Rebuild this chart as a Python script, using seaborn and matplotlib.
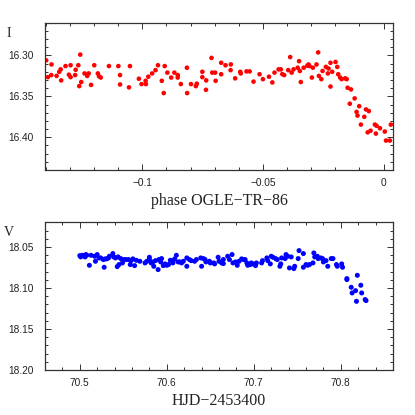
import matplotlib
matplotlib.use("Agg")
import matplotlib.pyplot as plt
import matplotlib.ticker as mticker
import seaborn as sns
import pandas as pd

# ---- data: top panel (phase vs I) ----
phase = [
    -0.1398, -0.1391, -0.1377, -0.1376, -0.1355, -0.1344, -0.1338, -0.1336, -0.1318, -0.1304,
    -0.1297, -0.1297, -0.1276, -0.1278, -0.1265, -0.1257, -0.1261, -0.1253, -0.1239, -0.1222,
    -0.1228, -0.1212, -0.1199, -0.1184, -0.1179, -0.1172, -0.1138, -0.1099, -0.1092, -0.1092,
    -0.1051, -0.1055, -0.1014, -0.1003, -0.0986, -0.0985, -0.0975, -0.0959, -0.0945, -0.0935,
    -0.0919, -0.0911, -0.0907, -0.0896, -0.0880, -0.0867, -0.0853, -0.0853, -0.0840, -0.0815,
    -0.0814, -0.0798, -0.0778, -0.0774, -0.0751, -0.0751, -0.0736, -0.0735, -0.0713, -0.0710,
    -0.0698, -0.0696, -0.0673, -0.0673, -0.0655, -0.0633, -0.0634, -0.0615, -0.0594, -0.0592,
    -0.0568, -0.0555, -0.0539, -0.0514, -0.0500, -0.0475, -0.0461, -0.0452, -0.0435, -0.0426,
    -0.0420, -0.0412, -0.0395, -0.0387, -0.0381, -0.0373, -0.0356, -0.0350, -0.0347, -0.0343,
    -0.0331, -0.0316, -0.0311, -0.0307, -0.0297, -0.0293, -0.0278, -0.0271, -0.0268, -0.0258,
    -0.0253, -0.0239, -0.0231, -0.0228, -0.0220, -0.0220, -0.0213, -0.0199, -0.0192, -0.0188,
    -0.0180, -0.0174, -0.0159, -0.0153, -0.0149, -0.0135, -0.0140, -0.0120, -0.0112, -0.0108,
    -0.0101, -0.0094, -0.0080, -0.0073, -0.0061, -0.0066, -0.0054, -0.0036, -0.0029, -0.0032,
    -0.0015, 0.0005, 0.0010, 0.0026, 0.0030,
]
mag_I = [
    16.306, 16.3265, 16.324, 16.311, 16.325, 16.320, 16.317, 16.3305, 16.313, 16.3235,
    16.312, 16.3265, 16.3175, 16.324, 16.312, 16.299, 16.3375, 16.3325, 16.322, 16.322,
    16.325, 16.336, 16.312, 16.322, 16.3255, 16.327, 16.313, 16.313, 16.324, 16.3355,
    16.313, 16.339, 16.3285, 16.335, 16.331, 16.335, 16.326, 16.322, 16.318, 16.312,
    16.331, 16.346, 16.313, 16.321, 16.327, 16.321, 16.324, 16.327, 16.335, 16.315,
    16.346, 16.335, 16.3375, 16.3345, 16.320, 16.3265, 16.342, 16.3305, 16.303, 16.321,
    16.321, 16.331, 16.309, 16.323, 16.312, 16.311, 16.318, 16.328, 16.320, 16.322,
    16.3195, 16.3195, 16.332, 16.323, 16.329, 16.326, 16.333, 16.321, 16.317, 16.317,
    16.3228, 16.324, 16.318, 16.302, 16.321, 16.317, 16.315, 16.307, 16.319, 16.3325,
    16.315, 16.3125, 16.311, 16.313, 16.327, 16.315, 16.311, 16.2963, 16.325, 16.329,
    16.319, 16.314, 16.322, 16.316, 16.309, 16.338, 16.320, 16.308, 16.314, 16.323,
    16.327, 16.329, 16.328, 16.329, 16.3395, 16.3415, 16.359, 16.3525, 16.369, 16.3735,
    16.362, 16.3845, 16.375, 16.366, 16.368, 16.394, 16.392, 16.3845, 16.386, 16.3955,
    16.389, 16.393, 16.404, 16.404, 16.3845,
]

# ---- data: bottom panel (HJD vs V) ----
hjd = [
    70.500, 70.501, 70.503, 70.506, 70.507, 70.508, 70.511, 70.513, 70.517, 70.518,
    70.520, 70.522, 70.524, 70.527, 70.528, 70.529, 70.531, 70.533, 70.534, 70.538,
    70.539, 70.541, 70.543, 70.544, 70.545, 70.547, 70.549, 70.551, 70.553, 70.556,
    70.558, 70.559, 70.561, 70.563, 70.565, 70.569, 70.575, 70.577, 70.580, 70.580,
    70.582, 70.584, 70.585, 70.587, 70.590, 70.591, 70.593, 70.594, 70.596, 70.598,
    70.600, 70.602, 70.604, 70.607, 70.607, 70.609, 70.611, 70.613, 70.615, 70.617,
    70.619, 70.623, 70.623, 70.626, 70.628, 70.632, 70.634,
    70.639, 70.640, 70.642, 70.644, 70.645, 70.649, 70.650, 70.654, 70.655, 70.659,
    70.660, 70.663, 70.665, 70.665, 70.670, 70.672, 70.675, 70.676, 70.679, 70.681,
    70.683, 70.686, 70.688, 70.690, 70.692, 70.693, 70.696, 70.697, 70.699, 70.702,
    70.703, 70.709, 70.710, 70.715, 70.716, 70.719, 70.720, 70.722, 70.725, 70.727,
    70.730, 70.731, 70.732, 70.736, 70.737, 70.739, 70.741, 70.743, 70.746, 70.747,
    70.751, 70.752, 70.757, 70.757, 70.760, 70.762, 70.764, 70.768, 70.769, 70.770,
    70.773, 70.774, 70.777, 70.779, 70.780, 70.783, 70.785, 70.789, 70.791, 70.795,
    70.796, 70.801, 70.802, 70.807, 70.807, 70.812, 70.813, 70.817, 70.818, 70.819,
    70.823, 70.824, 70.828, 70.829,
]
mag_V = [
    18.0606, 18.0622, 18.0602, 18.0622, 18.0593, 18.0602, 18.0724, 18.0602, 18.0614, 18.0675,
    18.0593, 18.0634, 18.0634, 18.0654, 18.0748, 18.0646, 18.0646, 18.0634, 18.0614, 18.0581,
    18.0622, 18.0634, 18.0740, 18.0622, 18.0715, 18.0642, 18.0695, 18.0654, 18.0654, 18.0654,
    18.0715, 18.0667, 18.0646, 18.0728, 18.0663, 18.0675, 18.0695, 18.0675, 18.0654, 18.0626,
    18.0695, 18.0683, 18.0736, 18.0667, 18.0776, 18.0654, 18.0683, 18.0642, 18.0728, 18.0707,
    18.0724, 18.0715, 18.0663, 18.0675, 18.0695, 18.0646, 18.0602, 18.0683, 18.0683, 18.0695,
    18.0675, 18.0736, 18.0634, 18.0654, 18.0667, 18.0675, 18.0654,
    18.0634, 18.0736, 18.0642, 18.0654, 18.0683, 18.0675, 18.0695, 18.0695, 18.0707, 18.0626,
    18.0675, 18.0695, 18.0654, 18.0703, 18.0614, 18.0654, 18.0593, 18.0695, 18.0683, 18.0724,
    18.0675, 18.0646, 18.0654, 18.0654, 18.0695, 18.0724, 18.0715, 18.0695, 18.0707, 18.0728,
    18.0695, 18.0695, 18.0667, 18.0634, 18.0667, 18.0707, 18.0614, 18.0626, 18.0642, 18.0654,
    18.0736, 18.0707, 18.0634, 18.0642, 18.0593, 18.0614, 18.0756, 18.0622, 18.0764, 18.0736,
    18.0642, 18.0545, 18.0581, 18.0748, 18.0715, 18.0724, 18.0715, 18.0695, 18.0573, 18.0622,
    18.0614, 18.0642, 18.0634, 18.0642, 18.0683, 18.0667, 18.0736, 18.0642, 18.0642, 18.0715,
    18.0736, 18.0707, 18.0748, 18.0886, 18.0898, 18.0992, 18.1061, 18.1033, 18.1163, 18.0846,
    18.0967, 18.1061, 18.1142, 18.1154,
]

top_xticks = [-0.1, -0.05, 0.0]
top_xticklabels = ["\u22120.1", "\u22120.05", "0"]
top_yticks = [16.30, 16.35, 16.40]
top_yticklabels = ["16.30", "16.35", "16.40"]
bot_xticks = [70.5, 70.6, 70.7, 70.8]
bot_xticklabels = ["70.5", "70.6", "70.7", "70.8"]
bot_yticks = [18.05, 18.10, 18.15, 18.20]
bot_yticklabels = ["18.05", "18.10", "18.15", "18.20"]

sns.set_style("ticks")
plt.rcParams['font.family'] = ['Liberation Sans', 'DejaVu Sans']

df_top = pd.DataFrame({"phase": phase, "I": mag_I})
df_bot = pd.DataFrame({"hjd": hjd, "V": mag_V})

W = 415.0
fig = plt.figure(figsize=(4.15, 4.15), dpi=100)
ax1 = fig.add_axes([45 / W, 1 - 170 / W, 348 / W, 147.3 / W])
ax2 = fig.add_axes([45 / W, 1 - 370 / W, 348 / W, 147.7 / W])

sns.scatterplot(data=df_top, x="phase", y="I", ax=ax1, color="#ff0000",
                s=11, linewidth=0, edgecolor="none")
sns.scatterplot(data=df_bot, x="hjd", y="V", ax=ax2, color="#0000ff",
                s=13, linewidth=0, edgecolor="none")

ax1.set_xlim(-0.1403, 0.0039)
ax1.set_ylim(16.44, 16.26)
ax2.set_xlim(70.46, 70.86)
ax2.set_ylim(18.20, 18.02)

ax1.set_xticks(top_xticks)
ax1.set_xticklabels(top_xticklabels)
ax1.set_yticks(top_yticks)
ax1.set_yticklabels(top_yticklabels)
ax1.xaxis.set_minor_locator(mticker.MultipleLocator(0.01))
ax1.yaxis.set_minor_locator(mticker.MultipleLocator(0.01))

ax2.set_xticks(bot_xticks)
ax2.set_xticklabels(bot_xticklabels)
ax2.set_yticks(bot_yticks)
ax2.set_yticklabels(bot_yticklabels)
ax2.xaxis.set_minor_locator(mticker.MultipleLocator(0.02))
ax2.yaxis.set_minor_locator(mticker.MultipleLocator(0.01))

serif = ['Liberation Serif', 'DejaVu Serif']
for ax, xl, yl in [(ax1, "phase OGLE\u2212TR\u221286", "I"), (ax2, "HJD\u22122453400", "V")]:
    for sp in ax.spines.values():
        sp.set_linewidth(0.9)
        sp.set_color("#333333")
        sp.set_visible(True)
    ax.tick_params(which="both", direction="in", top=True, right=True,
                   color="#333333", width=0.7, labelsize=7.3, pad=6,
                   labelcolor="#222222")
    ax.tick_params(which="major", length=4)
    ax.tick_params(which="minor", length=2.2)
    ax.tick_params(axis="y", pad=8)
    ax.set_xlabel(xl, family=serif, fontsize=11.5, color="#222222", labelpad=3)
    ax.set_ylabel("")
    ax.text(-0.103, 0.93, yl, transform=ax.transAxes, family=serif,
            fontsize=10, color="#222222", ha="center", va="center")

fig.savefig("out.png", dpi=100, facecolor="white")
